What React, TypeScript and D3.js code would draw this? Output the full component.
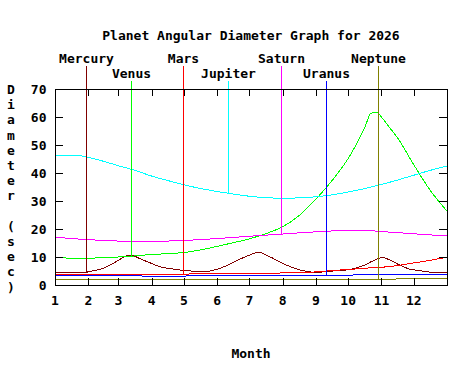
import React from 'react';
import * as d3 from 'd3';

const W = 474;
const H = 376;

const title = 'Planet Angular Diameter Graph for 2026';
const xAxisTitle = 'Month';
const yAxisTitle = 'Diameter (sec)';

const monthLabels = ['1', '2', '3', '4', '5', '6', '7', '8', '9', '10', '11', '12'];
const monthStartDays = [0, 31, 59, 90, 120, 151, 181, 212, 243, 273, 304, 334];
const yTicks = [0, 10, 20, 30, 40, 50, 60, 70];

const planetNames = ['Mercury', 'Venus', 'Mars', 'Jupiter', 'Saturn', 'Uranus', 'Neptune'];
const planetColors = ['#800000', '#00ff00', '#ff0000', '#00ffff', '#ff00ff', '#0000ff', '#808000'];
const markerDays = [28.9, 70.9, 119.3, 161, 210.4, 252.3, 300.6];
const labelRows = [0, 1, 0, 1, 0, 1, 0];

const mercuryDays = [0, 28, 33, 45, 54, 62, 68, 71, 79, 88, 98, 110, 123, 138, 151, 163, 172, 182, 189, 200, 212, 228, 243, 256, 275, 287, 296, 305, 312, 321, 330, 340, 349, 365];
const mercuryDiam = [4.5, 4.5, 4.9, 6.0, 7.7, 9.5, 10.6, 10.7, 9.4, 8.0, 6.5, 5.7, 5.1, 4.8, 5.6, 7.5, 9.2, 10.8, 11.7, 10.1, 7.7, 5.4, 4.5, 4.9, 5.6, 6.9, 8.6, 9.8, 8.9, 7.1, 5.7, 5.1, 4.6, 4.5];

const venusDays = [0, 20, 31, 59, 75, 90, 105, 120, 135, 151, 166, 181, 196, 212, 228, 243, 258, 274, 283, 289, 294, 299, 305, 312, 319, 334, 349, 365];
const venusDiam = [9.7, 9.6, 9.6, 10.0, 10.4, 10.9, 11.2, 11.6, 12.5, 13.8, 15.1, 16.5, 18.3, 20.8, 25.0, 30.7, 37.3, 45.8, 52.0, 56.8, 61.3, 61.7, 59.5, 56.0, 52.5, 43.0, 34.0, 26.4];

const marsDays = [0, 60, 136, 212, 240, 256, 275, 293, 312, 331, 349, 365];
const marsDiam = [3.8, 3.85, 3.95, 4.3, 4.6, 5.1, 5.6, 6.1, 6.6, 7.7, 8.8, 9.9];

const jupiterDays = [0, 15, 23, 31, 46, 59, 74, 90, 105, 120, 135, 151, 166, 181, 196, 212, 227, 243, 258, 273, 288, 304, 319, 334, 349, 365];
const jupiterDiam = [46.4, 46.4, 46.2, 45.6, 44.1, 42.6, 41.0, 38.9, 37.3, 35.8, 34.5, 33.4, 32.5, 31.7, 31.2, 31.0, 31.1, 31.5, 32.2, 33.2, 34.4, 35.9, 37.5, 39.2, 40.9, 42.5];

const saturnDays = [0, 15, 31, 46, 59, 74, 90, 105, 120, 135, 151, 166, 181, 196, 212, 227, 243, 258, 273, 288, 304, 319, 334, 349, 365];
const saturnDiam = [17.1, 16.6, 16.2, 15.9, 15.7, 15.6, 15.6, 15.7, 15.9, 16.2, 16.6, 17.0, 17.4, 17.8, 18.2, 18.6, 19.0, 19.3, 19.5, 19.5, 19.1, 18.7, 18.3, 17.9, 17.5];

const uranusDays = [0, 5, 20, 100, 200, 270, 280, 365];
const uranusDiam = [3.5, 3.35, 3.25, 3.2, 3.25, 3.35, 3.6, 3.65];

const neptuneDays = [0, 5, 160, 170, 365];
const neptuneDiam = [2.2, 1.9, 1.9, 2.1, 2.15];

const seriesDays = [mercuryDays, venusDays, marsDays, jupiterDays, saturnDays, uranusDays, neptuneDays];
const seriesDiam = [mercuryDiam, venusDiam, marsDiam, jupiterDiam, saturnDiam, uranusDiam, neptuneDiam];

const FONT = '"DejaVu Sans Mono", monospace';

export default function App() {
  const left = 55, right = 447, top = 89, bottom = 285;
  const x = d3.scaleLinear().domain([0, 365]).range([left, right]);
  const y = d3.scaleLinear().domain([0, 70]).range([bottom, top]);

  const line = d3
    .line<[number, number]>()
    .x((d) => x(d[0]))
    .y((d) => y(d[1]))
    .curve(d3.curveMonotoneX);

  const valueAt = (days: number[], vals: number[], day: number) => {
    const interp = d3.scaleLinear().domain(days).range(vals);
    return interp(day);
  };

  const textStyle = { fontFamily: FONT, fontWeight: 'bold' as const, fontSize: 13 };

  return (
    <svg
      width={W}
      height={H}
      style={{ position: 'absolute', left: 0, top: 0, background: '#fff' }}
    >
      <rect x={0} y={0} width={W} height={H} fill="#fff" />
      <text x={251} y={40} textAnchor="middle" {...textStyle} fill="#000">
        {title}
      </text>

      {/* curves */}
      {planetNames.map((name, i) => {
        const pts = seriesDays[i].map((d, j) => [d, seriesDiam[i][j]] as [number, number]);
        return (
          <path
            key={'c' + name}
            d={line(pts) || ''}
            fill="none"
            stroke={planetColors[i]}
            strokeWidth={1}
            shapeRendering="crispEdges"
          />
        );
      })}

      {/* marker lines and labels */}
      {planetNames.map((name, i) => {
        const mx = Math.round(x(markerDays[i])) + 0.5;
        const row = labelRows[i];
        const baseY = row === 0 ? 63 : 78;
        const lineTop = row === 0 ? 66 : 81;
        const v = valueAt(seriesDays[i], seriesDiam[i], markerDays[i]);
        return (
          <g key={'m' + name}>
            <line
              x1={mx}
              x2={mx}
              y1={lineTop}
              y2={y(v)}
              stroke={planetColors[i]}
              strokeWidth={1}
            />
            <text x={mx} y={baseY} textAnchor="middle" {...textStyle} fill="#000">
              {name}
            </text>
          </g>
        );
      })}

      {/* frame */}
      <rect
        x={left + 0.5}
        y={top + 0.5}
        width={right - left}
        height={bottom - top}
        fill="none"
        stroke="#000"
        strokeWidth={1}
        shapeRendering="crispEdges"
      />

      {/* y ticks */}
      {yTicks.map((t) => {
        const ty = Math.round(y(t)) + 0.5;
        return (
          <g key={'y' + t}>
            <line x1={left} x2={left + 8} y1={ty} y2={ty} stroke="#000" shapeRendering="crispEdges" />
            <line x1={right - 8} x2={right} y1={ty} y2={ty} stroke="#000" shapeRendering="crispEdges" />
            <text x={46.5} y={y(t) + 4.7} textAnchor="end" {...textStyle} fill="#000">
              {String(t)}
            </text>
          </g>
        );
      })}

      {/* x ticks */}
      {monthStartDays.map((d, i) => {
        const tx = Math.round(x(d)) + 0.5;
        return (
          <g key={'x' + i}>
            {i > 0 && (
              <>
                <line x1={tx} x2={tx} y1={bottom} y2={bottom - 7} stroke="#000" shapeRendering="crispEdges" />
                <line x1={tx} x2={tx} y1={top} y2={top + 7} stroke="#000" shapeRendering="crispEdges" />
              </>
            )}
            <text x={x(d)} y={305} textAnchor="middle" {...textStyle} fill="#000">
              {monthLabels[i]}
            </text>
          </g>
        );
      })}

      {/* axis titles */}
      <text x={251} y={358} textAnchor="middle" {...textStyle} fill="#000">
        {xAxisTitle}
      </text>
      {yAxisTitle.split('').map((ch, i) => (
        <text key={'yl' + i} x={11} y={94 + i * 15.2} textAnchor="middle" {...textStyle} fill="#000">
          {ch}
        </text>
      ))}
    </svg>
  );
}
